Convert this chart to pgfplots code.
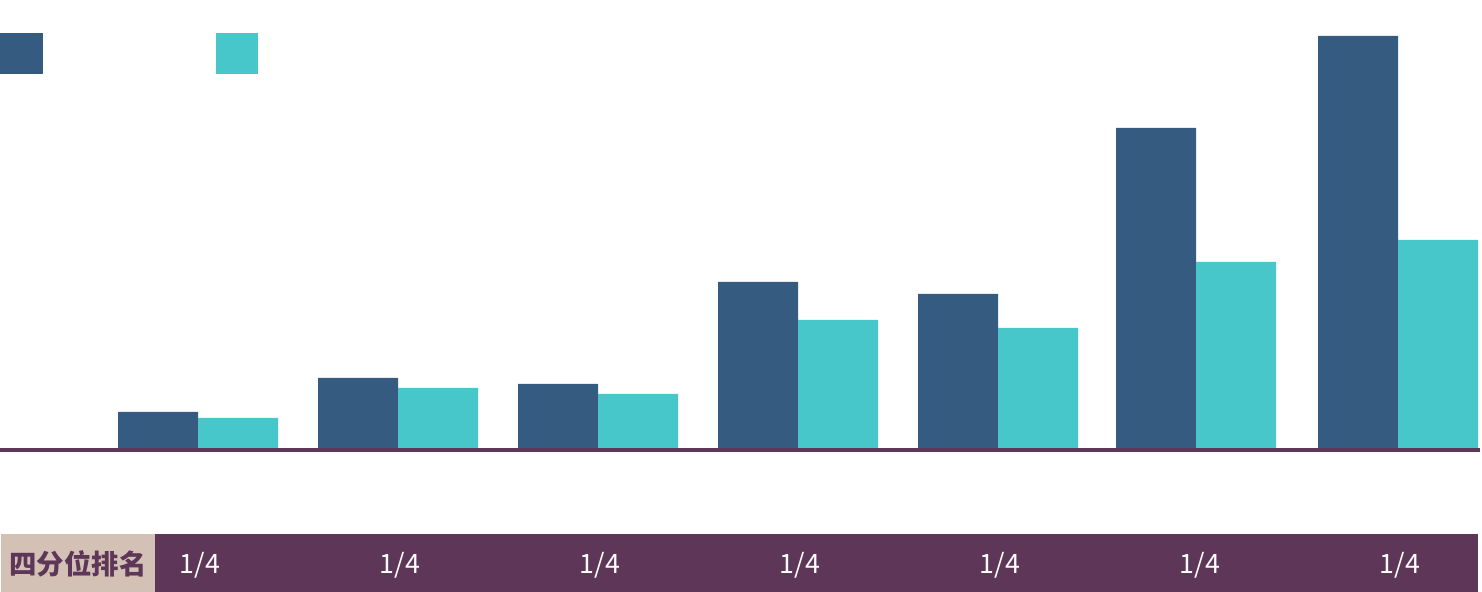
\documentclass[border=0pt]{standalone}
\usepackage{pgfplots}
\pgfplotsset{compat=1.18}
\usepackage{fontspec}
\setmainfont{Noto Sans CJK SC}
\definecolor{cdark}{HTML}{355B80}
\definecolor{cteal}{HTML}{48C7CA}
\definecolor{cpurple}{HTML}{5E3657}
\definecolor{cbeige}{HTML}{D3C1B6}
\begin{document}
\begin{tikzpicture}
\begin{axis}[
  name=a,
  scale only axis,
  width=14.82cm, height=5.92cm,
  xmin=-0.99, xmax=6.42,
  ymin=-144, ymax=448,
  hide axis,
  clip=false,
  ybar, bar width=0.4,
]
\fill[cpurple] (axis cs:-0.215,-86) rectangle (axis cs:6.4,-144);
\fill[cbeige] (axis cs:-0.985,-86) rectangle (axis cs:-0.215,-144);
\addplot[fill=cdark, draw=none, bar shift=-0.2] coordinates {(0,36) (1,70) (2,64) (3,166) (4,154) (4.99,320) (6,412)};
\addplot[fill=cteal, draw=none, bar shift=0.2] coordinates {(0,30) (1,60) (2,54) (3,128) (4,120) (4.99,186) (6,208)};
\draw[cpurple, line width=0.04cm] (axis cs:-0.99,-2) -- (axis cs:6.41,-2);
\fill[cdark] (axis cs:-0.99,415) rectangle (axis cs:-0.775,374);
\fill[cteal] (axis cs:0.09,415) rectangle (axis cs:0.30,374);
\node[font=\bfseries\fontsize{7.8pt}{9pt}\selectfont, text=cpurple] at (axis cs:-0.6,-116) {四分位排名};
\node[font=\fontsize{7.6pt}{9pt}\selectfont, text=white] at (axis cs:0.01,-117) {1/4};
\node[font=\fontsize{7.6pt}{9pt}\selectfont, text=white] at (axis cs:1.01,-117) {1/4};
\node[font=\fontsize{7.6pt}{9pt}\selectfont, text=white] at (axis cs:2.01,-117) {1/4};
\node[font=\fontsize{7.6pt}{9pt}\selectfont, text=white] at (axis cs:3.01,-117) {1/4};
\node[font=\fontsize{7.6pt}{9pt}\selectfont, text=white] at (axis cs:4.01,-117) {1/4};
\node[font=\fontsize{7.6pt}{9pt}\selectfont, text=white] at (axis cs:5.01,-117) {1/4};
\node[font=\fontsize{7.6pt}{9pt}\selectfont, text=white] at (axis cs:6.01,-117) {1/4};
\end{axis}
\pgfresetboundingbox
\path (a.south west) rectangle (a.north east);
\end{tikzpicture}
\end{document}
